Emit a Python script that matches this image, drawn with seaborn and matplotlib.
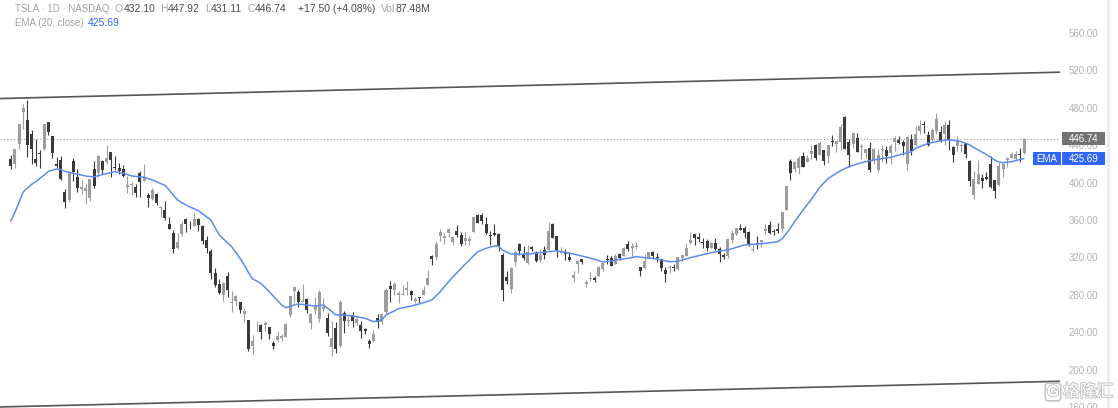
"""TSLA daily candles (Dec 2024 - Dec 2025) with EMA(20) and a price channel.

Chart style mimics a light monochrome trading terminal: grey up candles,
dark down candles, blue EMA, labels on the right-hand price scale.
"""

import numpy as np
import pandas as pd
import seaborn as sns
import matplotlib.pyplot as plt
from matplotlib.patches import Rectangle
from matplotlib.lines import Line2D
from matplotlib.transforms import blended_transform_factory
import matplotlib.patheffects as pe

# ---------------------------------------------------------------------------
# Data, one row per month
# ---------------------------------------------------------------------------

opens = [
    424.84, 420.00, 441.09, 475.90, 466.50, 451.88, 425.51, 431.00, 435.90, 465.16, 449.52, 419.40, 423.79,
    390.10, 381.48, 423.20, 405.83, 392.95, 391.40, 383.21, 414.34, 409.90, 423.49, 421.50, 432.64, 416.81, 416.06, 414.45, 394.80, 396.91, 395.21, 410.78, 401.53,
    386.68, 382.63, 387.51, 373.03, 370.19, 356.21, 345.80, 329.94, 345.00, 360.62, 355.01, 354.00, 361.51, 353.44, 338.14, 327.02, 303.71, 291.16, 279.50,
    300.34, 270.93, 272.92, 272.06, 259.32, 252.54, 225.31, 247.22, 248.13, 247.31, 245.06, 228.16, 231.61, 233.35, 234.99, 258.08, 283.60, 282.66, 272.48, 275.58, 249.31,
    263.80, 254.60, 265.29, 255.38, 223.78, 245.00, 224.69, 260.00, 251.84, 258.36, 249.91, 247.61, 243.47, 230.26, 230.96, 254.86, 250.50, 261.69, 288.98, 285.50, 279.90,
    280.01, 284.90, 284.57, 273.10, 276.88, 279.63, 290.21, 321.99, 320.00, 342.50, 340.34, 346.24, 336.30, 347.87, 344.43, 337.92, 337.40, 347.35, 365.29, 365.29, 355.52,
    343.50, 346.60, 345.10, 322.49, 298.83, 285.96, 314.94, 334.40, 323.08, 313.97, 331.29, 326.09, 317.31, 327.95, 327.54, 356.17, 342.70, 324.61, 324.51, 319.90,
    298.46, 312.63, 317.99, 291.37, 297.00, 297.55, 300.05, 307.89, 317.73, 319.68, 312.80, 323.15, 321.66, 334.40, 329.74, 330.90, 310.00, 308.74, 318.45, 325.55, 320.30, 318.08,
    306.21, 309.08, 308.95, 307.89, 319.79, 321.43, 335.00, 345.00, 341.50, 335.76, 337.66, 329.62, 335.79, 329.22, 322.08, 321.66, 338.90, 344.93, 351.94, 350.91, 347.23,
    328.23, 335.20, 336.15, 348.00, 354.64, 348.44, 350.55, 350.17, 370.94, 423.13, 414.50, 415.75, 428.87, 421.82, 431.11, 439.88, 429.83, 435.24, 428.30, 444.35, 441.52,
    443.80, 470.54, 443.29, 440.75, 447.82, 437.57, 431.81, 436.54, 423.53, 413.74, 434.73, 434.73, 432.08, 443.87, 445.76, 443.87, 420.00, 446.83, 439.98, 454.78, 462.50, 451.05, 446.75,
    455.00, 454.46, 452.50, 461.96, 437.92, 439.60, 439.40, 442.15, 423.13, 386.44, 398.74, 405.38, 406.12, 420.16, 402.27, 397.70, 414.42, 423.95, 426.59,
    425.28, 430.82, 432.10,
]

highs = [
    429.30, 436.30, 463.19, 483.99, 488.54, 456.36, 447.08, 434.51, 462.78, 465.33, 450.00, 427.00, 427.93,
    392.73, 411.88, 426.43, 414.33, 402.50, 399.28, 403.79, 422.64, 429.80, 424.00, 439.74, 433.20, 428.00, 420.73, 418.88, 406.69, 400.59, 398.59, 412.50, 419.99,
    389.17, 394.00, 388.39, 375.40, 380.55, 362.70, 349.37, 346.40, 358.69, 362.00, 359.10, 367.34, 362.30, 354.98, 342.40, 328.89, 309.00, 297.23, 293.88,
    303.94, 284.35, 279.55, 272.65, 266.25, 253.37, 237.06, 251.84, 248.29, 251.58, 245.40, 230.10, 241.41, 238.00, 249.52, 278.64, 288.20, 284.90, 291.85, 276.10, 260.56,
    277.45, 284.99, 276.30, 261.00, 252.00, 250.44, 274.69, 262.49, 257.74, 261.80, 258.75, 251.97, 244.34, 232.21, 242.79, 259.45, 259.54, 286.85, 294.86, 293.32, 284.45,
    290.87, 294.78, 284.85, 277.73, 277.92, 289.80, 307.04, 322.21, 337.59, 350.00, 346.14, 351.62, 343.00, 354.99, 347.35, 346.99, 343.18, 363.79, 365.98, 367.71, 363.68,
    348.02, 355.40, 345.60, 324.55, 305.50, 309.83, 327.83, 335.50, 332.56, 332.99, 332.05, 327.26, 329.32, 332.36, 357.54, 356.26, 343.00, 331.05, 329.34, 325.58,
    305.89, 316.83, 318.45, 296.15, 304.05, 300.15, 310.48, 314.09, 322.60, 321.20, 323.50, 324.34, 330.90, 338.00, 335.41, 336.20, 310.15, 323.63, 326.25, 326.85, 324.90, 318.80,
    309.31, 312.12, 312.45, 320.47, 322.40, 335.15, 346.64, 345.26, 346.58, 340.47, 339.30, 336.27, 340.55, 331.37, 324.90, 340.25, 349.53, 351.90, 355.39, 353.55, 348.75,
    333.33, 343.33, 338.89, 355.87, 358.44, 350.77, 356.33, 368.99, 396.69, 425.70, 423.25, 428.31, 432.22, 429.47, 440.20, 440.97, 444.21, 435.35, 440.47, 450.98, 445.00,
    462.29, 470.75, 446.77, 453.55, 452.68, 441.33, 436.35, 443.13, 436.89, 435.45, 440.51, 439.35, 441.00, 449.80, 449.40, 445.54, 449.40, 451.68, 460.16, 467.00, 465.70, 455.06, 458.00,
    474.07, 460.22, 466.33, 467.45, 439.36, 449.67, 442.49, 442.33, 424.50, 412.20, 423.96, 408.90, 411.82, 428.94, 402.59, 421.72, 420.48, 426.94, 432.93,
    433.74, 436.65, 447.92,
]

lows = [
    415.00, 415.71, 436.15, 457.51, 427.01, 420.02, 417.64, 415.41, 435.14, 451.02, 426.50, 415.75, 402.54,
    373.04, 379.45, 401.70, 390.00, 387.40, 377.29, 380.07, 394.54, 405.66, 409.13, 419.75, 406.31, 413.31, 408.95, 405.78, 389.00, 386.50, 384.48, 384.41, 401.34,
    374.36, 381.40, 375.53, 363.18, 360.34, 350.51, 325.10, 329.12, 342.85, 347.50, 350.02, 353.67, 348.00, 334.42, 324.70, 297.25, 288.04, 280.88, 273.60,
    277.30, 261.84, 267.71, 260.02, 250.73, 220.00, 217.02, 241.10, 232.60, 240.73, 232.80, 222.28, 229.20, 230.05, 234.55, 256.33, 271.28, 266.51, 271.82, 260.57, 243.36,
    259.25, 251.27, 261.51, 236.00, 214.25, 217.80, 223.88, 239.33, 246.08, 245.93, 247.54, 233.89, 237.68, 222.79, 229.85, 244.43, 249.20, 259.63, 272.42, 279.47, 270.78,
    279.81, 279.81, 274.40, 271.35, 271.00, 279.41, 290.00, 311.50, 316.80, 337.00, 334.72, 342.33, 333.37, 341.63, 332.20, 333.21, 333.21, 347.32, 356.35, 356.00, 345.29,
    333.33, 343.04, 327.33, 273.21, 291.14, 281.85, 310.67, 322.50, 316.86, 313.30, 326.41, 314.74, 315.45, 317.78, 327.48, 340.44, 320.40, 323.61, 317.49, 316.60,
    293.21, 303.82, 312.76, 288.77, 294.35, 293.55, 300.00, 305.65, 312.67, 310.50, 312.62, 317.06, 321.42, 326.88, 321.55, 328.67, 300.41, 308.01, 318.25, 318.68, 315.31, 305.40,
    293.61, 303.00, 305.50, 306.93, 316.16, 320.98, 334.75, 332.94, 336.50, 330.40, 327.02, 329.59, 327.85, 314.60, 318.68, 319.69, 335.03, 343.72, 349.16, 340.26, 331.70,
    325.60, 328.51, 331.48, 344.68, 344.84, 343.82, 346.07, 347.60, 370.24, 402.43, 411.43, 409.67, 416.56, 421.72, 425.02, 423.72, 429.03, 419.08, 421.02, 439.50, 433.12,
    435.31, 435.57, 416.58, 436.69, 432.45, 425.23, 426.18, 411.45, 419.70, 411.25, 421.53, 421.31, 419.60, 434.21, 441.31, 429.37, 413.90, 430.00, 438.69, 451.60, 452.65, 439.61, 443.69,
    452.18, 443.82, 440.60, 435.09, 421.88, 433.36, 432.36, 426.17, 396.34, 382.78, 398.74, 393.71, 402.65, 394.74, 383.76, 396.10, 405.95, 416.89, 426.20,
    424.64, 422.04, 431.11,
]

closes = [
    418.10, 436.23, 463.02, 479.86, 440.13, 436.17, 421.06, 430.60, 462.28, 454.13, 431.66, 417.41, 403.84,
    379.28, 410.44, 411.05, 394.36, 394.94, 394.74, 403.31, 396.36, 428.22, 413.82, 426.50, 424.07, 415.11, 412.38, 406.58, 397.15, 398.09, 389.10, 400.28, 404.60,
    383.68, 392.21, 378.17, 374.32, 361.62, 350.73, 328.50, 336.51, 355.94, 355.84, 354.11, 360.56, 354.40, 337.80, 330.53, 302.80, 290.80, 281.95, 292.98,
    284.65, 272.04, 279.10, 263.45, 262.67, 222.15, 230.58, 248.09, 240.68, 249.98, 238.01, 225.31, 235.86, 236.26, 248.71, 278.39, 288.14, 272.06, 273.13, 263.55, 259.16,
    268.46, 282.76, 267.28, 239.43, 233.29, 221.86, 272.20, 252.40, 252.31, 252.35, 254.11, 241.55, 241.37, 227.50, 237.97, 250.74, 259.51, 284.95, 285.88, 292.03, 282.16,
    280.52, 287.21, 280.26, 275.35, 276.22, 284.82, 298.26, 318.38, 334.07, 347.68, 342.82, 349.98, 342.09, 343.82, 334.62, 341.04, 339.34, 362.89, 356.90, 358.43, 346.46,
    342.69, 344.27, 332.05, 284.70, 295.14, 308.58, 326.09, 326.43, 319.11, 325.31, 329.13, 316.35, 322.05, 322.16, 348.68, 340.47, 327.55, 325.78, 323.63, 317.66,
    300.71, 315.65, 315.35, 293.94, 297.81, 295.88, 309.87, 313.51, 316.90, 310.78, 321.67, 319.41, 329.65, 328.49, 332.11, 332.56, 305.30, 316.06, 325.59, 321.20, 319.04, 308.27,
    302.63, 309.26, 308.72, 319.91, 322.27, 329.65, 339.03, 340.84, 339.38, 335.58, 330.56, 335.16, 329.31, 323.90, 320.11, 340.01, 346.60, 351.67, 349.60, 345.98, 333.87,
    329.36, 334.09, 338.53, 350.84, 346.40, 346.97, 347.79, 368.81, 395.94, 410.04, 421.62, 425.86, 416.85, 426.07, 434.21, 425.85, 442.79, 423.39, 440.40, 443.21, 444.72,
    459.46, 436.00, 429.83, 453.25, 433.09, 438.69, 435.54, 413.49, 435.90, 429.24, 435.15, 428.75, 439.31, 447.43, 442.60, 438.97, 448.98, 433.72, 452.42, 460.55, 461.51, 440.10, 456.56,
    468.37, 444.26, 462.07, 445.91, 429.52, 445.23, 439.62, 430.60, 401.99, 404.35, 408.92, 401.25, 403.99, 395.23, 391.09, 417.78, 419.40, 426.58, 430.17,
    430.14, 429.24, 446.74,
]

# EMA(20, close) as traced on the chart: candle index -> value
ema_idx = [0, 1, 2, 3, 5, 6, 8, 9, 11, 12, 13, 16, 18, 20, 21, 24, 25, 27, 29, 32,
           34, 37, 38, 40, 42, 45, 48, 50, 53, 55, 56, 57, 58, 60, 62, 65, 66, 68, 69, 71,
           73, 75, 76, 77, 78, 80, 82, 85, 87, 89, 90, 93, 96, 98, 101, 103, 105, 108, 110, 112,
           114, 116, 117, 118, 120, 122, 124, 127, 129, 131, 132, 135, 137, 140, 142, 144, 146, 148, 150, 152,
           154, 156, 158, 160, 161, 164, 166, 168, 170, 172, 174, 176, 179, 181, 184, 185, 186, 187, 188, 190,
           192, 194, 196, 199, 201, 204, 206, 208, 211, 213, 216, 217, 219, 220, 222, 224, 225, 227, 228, 230,
           232, 234, 235, 236, 237, 238, 240, 243]
ema_val = [359.0, 368.0, 379.0, 390.0, 398.0, 401.0, 408.0, 412.0, 414.5, 414.0, 412.0, 409.0, 407.0, 406.0, 407.5, 410.6, 411.7, 410.0, 407.1, 405.7,
           402.8, 397.0, 392.0, 381.4, 376.0, 370.0, 360.0, 344.0, 331.4, 319.0, 312.0, 304.0, 297.0, 292.3, 283.3, 269.0, 266.2, 269.1, 270.2, 269.1,
           268.0, 269.0, 265.6, 262.0, 258.4, 258.4, 257.3, 254.8, 251.2, 253.0, 258.4, 265.0, 268.0, 270.2, 274.4, 283.3, 294.0, 308.3, 317.2, 326.1,
           329.7, 332.2, 332.0, 327.5, 323.6, 323.3, 323.6, 325.0, 326.1, 327.2, 326.1, 323.6, 321.5, 318.0, 315.1, 316.0, 318.0, 319.0, 320.8, 319.7,
           319.0, 317.2, 315.4, 315.8, 317.2, 320.8, 322.9, 325.0, 326.8, 327.9, 330.7, 333.3, 334.3, 335.1, 336.8, 340.0, 345.5, 351.6, 358.3, 370.5,
           382.0, 394.9, 404.4, 412.7, 417.0, 421.3, 423.4, 424.9, 427.0, 429.5, 433.0, 436.7, 440.2, 442.0, 443.7, 445.6, 445.6, 444.8, 443.7, 440.2,
           434.9, 430.0, 427.0, 424.0, 422.0, 421.3, 422.4, 425.69]

# Parallel channel drawn on the chart (ends at the plot edges)
channel_x = [-2.57, 251.6]
channel_upper = [489.9, 518.1]
channel_lower = [160.0, 187.5]

price_ticks = [160, 200, 240, 280, 320, 360, 400, 440, 480, 520, 560]
last_volume = "87.48M"

# ---------------------------------------------------------------------------
# Style
# ---------------------------------------------------------------------------

UP = "#9d9d9d"
DOWN = "#3a3a3a"
EMA_BLUE = "#5b8def"
TAG_BLUE = "#2f66f5"
LIGHT = "#a3a3a3"
DARK = "#4a4a4a"

sns.set_theme(style="white")
plt.rcParams["font.family"] = ["Liberation Sans", "DejaVu Sans"]

W, H = 1118, 408
PLOT_W = 1060

fig = plt.figure(figsize=(W / 100, H / 100), dpi=100)
ax = fig.add_axes([0, 0, PLOT_W / W, 1])

# ---------------------------------------------------------------------------
# Candles
# ---------------------------------------------------------------------------

df = pd.DataFrame({"open": opens, "high": highs, "low": lows, "close": closes})
df["i"] = np.arange(len(df))
df["color"] = np.where(df["close"] >= df["open"], UP, DOWN)
body = (df["close"] - df["open"]).abs().clip(lower=0.9)
bottom = df[["open", "close"]].min(axis=1)

ax.vlines(df["i"], df["low"], df["high"], colors=df["color"], linewidth=0.8, zorder=2)
ax.bar(df["i"], body, bottom=bottom, width=0.72, color=df["color"], linewidth=0, zorder=3)

# EMA line
sns.lineplot(x=ema_idx, y=ema_val, ax=ax, color=EMA_BLUE, linewidth=1.1, zorder=4)

# channel lines and last price line
ax.plot(channel_x, channel_upper, color="#555555", linewidth=1.2, zorder=2)
ax.plot(channel_x, channel_lower, color="#555555", linewidth=1.2, zorder=2)
ax.axhline(closes[-1], color="#9a9a9a", linewidth=0.8, linestyle=(0, (1, 2)), zorder=1)

# ---------------------------------------------------------------------------
# Axes
# ---------------------------------------------------------------------------

ax.set_xlim(-10.7 / 4.17, (PLOT_W - 10.7) / 4.17)
ax.set_ylim(158.9, 595.3)
ax.set_xticks([])
ax.yaxis.tick_right()
ax.set_yticks(price_ticks)
ax.set_yticklabels([f"{t:.2f}" for t in price_ticks])
ax.tick_params(axis="y", length=0, pad=6, labelsize=7, labelcolor="#b3b3b3")
ax.set_xlabel("")
ax.set_ylabel("")
for s in ax.spines.values():
    s.set_visible(False)

# price tags on the right scale
trans = blended_transform_factory(ax.transAxes, ax.transData)
px_per_unit = 0.935


def tag(x0, x1, value, text, fc):
    """Coloured price box spanning x0..x1 pixels, centred on value."""
    h = 13 / px_per_unit
    ax.add_patch(Rectangle((x0 / PLOT_W, value - h / 2), (x1 - x0) / PLOT_W, h,
                           transform=trans, fc=fc, ec="none", clip_on=False, zorder=6))
    ax.text((x0 + x1) / 2 / PLOT_W, value, text, transform=trans, ha="center", va="center",
            color="white", fontsize=7, zorder=7, clip_on=False)


tag(1062, 1105, closes[-1], f"{closes[-1]:.2f}", "#727272")
tag(1033, 1061, ema_val[-1], "EMA", TAG_BLUE)
tag(1062, 1105, ema_val[-1], f"{ema_val[-1]:.2f}", TAG_BLUE)

# ---------------------------------------------------------------------------
# Header lines
# ---------------------------------------------------------------------------

change = closes[-1] - closes[-2]
pct = change / closes[-2] * 100


def header(y_px, pieces):
    prev = fig.text(15 / W, 1 - y_px / H, pieces[0][0], color=pieces[0][1],
                    fontsize=7, ha="left", va="center")
    for text, color, gap in pieces[1:]:
        prev = ax.annotate(text, xy=(1, 0.5), xycoords=prev, xytext=(gap, 0),
                           textcoords="offset points", ha="left", va="center",
                           color=color, fontsize=7.5)


header(8.5, [
    ("TSLA · 1D · NASDAQ", LIGHT, 0),
    ("O", LIGHT, 4), (f"{opens[-1]:.2f}", DARK, 0.3),
    ("H", LIGHT, 3.5), (f"{highs[-1]:.2f}", DARK, 0.3),
    ("L", LIGHT, 3.5), (f"{lows[-1]:.2f}", DARK, 0.3),
    ("C", LIGHT, 3.5), (f"{closes[-1]:.2f}", DARK, 0.3),
    (f"{change:+.2f} ({pct:+.2f}%)", DARK, 8),
    ("Vol", LIGHT, 4), (last_volume, DARK, 0.3),
])
header(23, [
    ("EMA (20, close)", LIGHT, 0),
    (f"{ema_val[-1]:.2f}", TAG_BLUE, 3),
])

# watermark + right border
fig.text(1053 / W, 1 - 392 / H, "G", fontsize=11, fontweight="bold", color="white",
         ha="center", va="center",
         path_effects=[pe.withStroke(linewidth=1.4, foreground="#c4c4c4")],
         bbox=dict(boxstyle="round,pad=0.12,rounding_size=0.2", fc="white", ec="#c4c4c4", lw=1.2))
fig.text(1088 / W, 1 - 392 / H, "格隆汇", fontsize=12, color="white", ha="center", va="center",
         family=["Noto Sans CJK SC", "DejaVu Sans"],
         path_effects=[pe.withStroke(linewidth=1.4, foreground="#c4c4c4")])
fig.add_artist(Line2D([1108 / W, 1108 / W], [0, 1], color="#ededed", linewidth=2,
                      transform=fig.transFigure))

fig.savefig("out.png", dpi=100, facecolor="white")
